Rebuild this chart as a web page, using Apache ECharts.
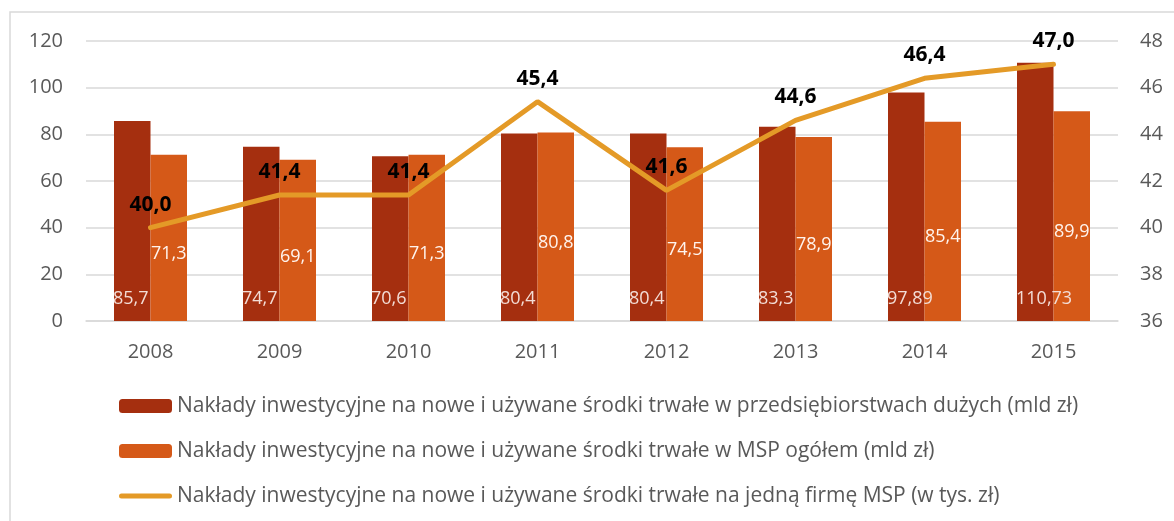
<!DOCTYPE html>
<html>
<head>
<meta charset="utf-8">
<script src="https://cdn.jsdelivr.net/npm/echarts@6/dist/echarts.min.js"></script>
<style>
  html, body { margin: 0; padding: 0; background: #fff; }
  #chart { width: 1174px; height: 521px; }
</style>
</head>
<body>
<div id="chart"></div>
<script>
// dane z wykresu
let years = ['2008', '2009', '2010', '2011', '2012', '2013', '2014', '2015'];
let duze = [85.7, 74.7, 70.6, 80.4, 80.4, 83.3, 97.89, 110.73];
let msp = [71.3, 69.1, 71.3, 80.8, 74.5, 78.9, 85.4, 89.9];
let naFirme = [40.0, 41.4, 41.4, 45.4, 41.6, 44.6, 46.4, 47.0];

let seriesNames = [
    'Nakłady inwestycyjne na nowe i używane środki trwałe w przedsiębiorstwach dużych (mld zł)',
    'Nakłady inwestycyjne na nowe i używane środki trwałe w MSP ogółem (mld zł)',
    'Nakłady inwestycyjne na nowe i używane środki trwałe na jedną firmę MSP (w tys. zł)'
];

const FONT = 'Open Sans';
const comma = function (v) { return String(v).replace('.', ','); };

let option = {
    animation: false,
    textStyle: { fontFamily: FONT },
    graphic: [{
        type: 'rect',
        shape: { x: 10, y: 12, width: 1175, height: 520 },
        style: { fill: 'none', stroke: '#d9d9d9', lineWidth: 1.5 },
        silent: true
    }],
    grid: { left: 86, right: 56, top: 41, bottom: 200 },
    legend: {
        orient: 'vertical',
        left: 114,
        top: 390,
        itemWidth: 53,
        itemHeight: 14,
        itemGap: 23,
        textStyle: { fontFamily: FONT, fontSize: 21, lineHeight: 22, color: '#595959' },
        data: [
            { name: seriesNames[0] },
            { name: seriesNames[1] },
            {
                name: seriesNames[2],
                // zaokrąglona gruba linia jako ikona
                icon: 'path://M2.5,0 H50.5 A2.5,2.5 0 0 1 50.5,5 H2.5 A2.5,2.5 0 0 1 2.5,0 Z',
                itemStyle: { color: '#E49A27' }
            }
        ]
    },
    xAxis: [{
        type: 'category',
        data: years,
        axisLine: { lineStyle: { color: '#d9d9d9', width: 1.5 } },
        axisTick: { show: false },
        axisLabel: { fontFamily: FONT, fontSize: 20, color: '#595959', margin: 21 }
    }],
    yAxis: [{
        type: 'value',
        min: 0, max: 120, interval: 20,
        axisLine: { show: false },
        axisTick: { show: false },
        splitLine: { lineStyle: { color: '#d9d9d9', width: 1.5 } },
        axisLabel: { fontFamily: FONT, fontSize: 20, color: '#595959', margin: 23 }
    }, {
        type: 'value',
        min: 36, max: 48, interval: 2,
        axisLine: { show: false },
        axisTick: { show: false },
        splitLine: { show: false },
        axisLabel: { fontFamily: FONT, fontSize: 20, color: '#595959', margin: 22 }
    }],
    series: [{
        name: seriesNames[0],
        type: 'bar',
        data: duze,
        barWidth: 36.5,
        barGap: '0%',
        itemStyle: { color: '#A52F0F' },
        label: {
            show: true,
            position: 'insideBottomLeft',
            distance: 0,
            offset: [-1, -13],
            color: '#F3DDD6',
            fontFamily: FONT,
            fontSize: 18,
            formatter: function (p) { return comma(p.value); }
        }
    }, {
        name: seriesNames[1],
        type: 'bar',
        data: msp,
        barWidth: 36.5,
        barGap: '0%',
        itemStyle: { color: '#D55918' },
        label: {
            show: true,
            position: 'inside',
            offset: [0, 16],
            color: '#FFF4EE',
            fontFamily: FONT,
            fontSize: 18,
            formatter: function (p) { return comma(p.value); }
        }
    }, {
        name: seriesNames[2],
        type: 'line',
        yAxisIndex: 1,
        data: naFirme,
        symbol: 'circle',
        symbolSize: 1,
        lineStyle: { color: '#E49A27', width: 5, cap: 'round' },
        itemStyle: { color: '#E49A27' },
        label: {
            show: true,
            position: 'top',
            distance: 12,
            color: '#000',
            fontFamily: FONT,
            fontWeight: 'bold',
            fontSize: 21,
            formatter: function (p) { return comma(p.value.toFixed(1)); }
        }
    }]
};

let myChart = echarts.init(document.getElementById('chart'));
myChart.setOption(option);
</script>
</body>
</html>
